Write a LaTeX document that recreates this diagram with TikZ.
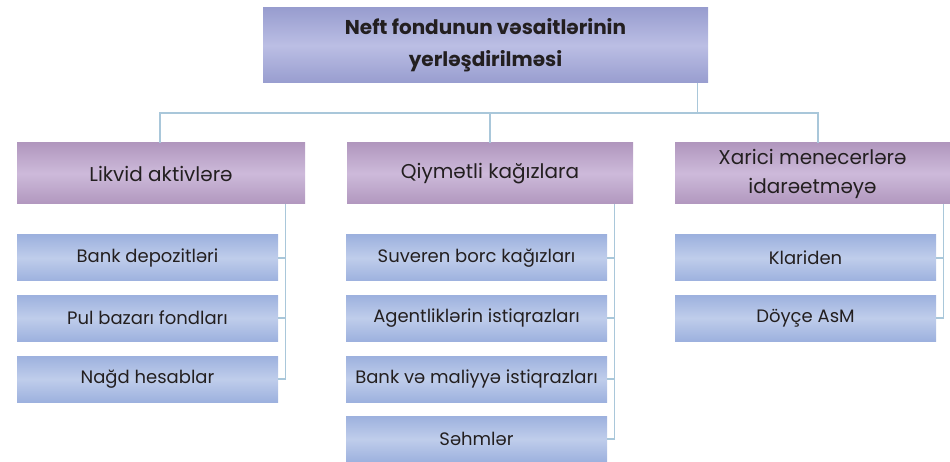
\documentclass[tikz,border=0pt]{standalone}
\usepackage{fontspec}
\setmainfont{Poppins}
\usetikzlibrary{calc}
\definecolor{topE}{HTML}{989DCF}
\definecolor{topM}{HTML}{BBBEE4}
\definecolor{midE}{HTML}{B197BE}
\definecolor{midM}{HTML}{CDBADA}
\definecolor{lowE}{HTML}{9DB1DE}
\definecolor{lowM}{HTML}{BFCDEB}
\definecolor{linkc}{HTML}{A9C7DA}
\definecolor{txt}{HTML}{231F20}
\tikzset{
  box/.style={inner sep=0pt, align=center, text=txt},
  topbox/.style={box, top color=topE, bottom color=topE, middle color=topM,
    minimum width=445pt, minimum height=75pt, font=\fontsize{20}{32}\selectfont\bfseries},
  midbox/.style={box, top color=midE, bottom color=midE, middle color=midM,
    minimum height=61pt, font=\fontsize{20}{29}\selectfont},
  lowbox/.style={box, top color=lowE, bottom color=lowE, middle color=lowM,
    minimum width=261pt, minimum height=46pt, font=\fontsize{18}{20}\selectfont},
  link/.style={draw=linkc, line width=1.1pt}
}
\begin{document}
\begin{tikzpicture}[x=1pt,y=-1pt]
\useasboundingbox (0,0) rectangle (950,462);
\node[topbox] (T) at (485.5,45.5) {Neft fondunun vəsaitlərinin\\yerləşdirilməsi};
\node[midbox, minimum width=288pt] (L1) at (161,173.5) {Likvid aktivlərə};
\node[midbox, minimum width=286pt] (L2) at (490,173.5) {Qiymətli kağızlara};
\node[midbox, minimum width=275pt] (L3) at (812.5,173.5) {Xarici menecerlərə\\idarəetməyə};
\node[lowbox] (a1) at (147.5,258) {Bank depozitləri};
\node[lowbox] (a2) at (147.5,318) {Pul bazarı fondları};
\node[lowbox] (a3) at (147.5,379) {Nağd hesablar};
\node[lowbox] (b1) at (476.5,258) {Suveren borc kağızları};
\node[lowbox] (b2) at (476.5,318) {Agentliklərin istiqrazları};
\node[lowbox] (b3) at (476.5,379) {Bank və maliyyə istiqrazları};
\node[lowbox] (b4) at (476.5,439) {Səhmlər};
\node[lowbox] (c1) at (805.5,258) {Klariden};
\node[lowbox] (c2) at (805.5,318) {Döyçe AsM};
\coordinate (bus) at (0,113);
% top-level connectors
\draw[link] ([xshift=-11pt]T.south east) -- ([xshift=-11pt]T.south east |- bus);
\draw[link] ([xshift=-1pt]L1.north) -- ([xshift=-1pt]L1.north |- bus) -- ([xshift=5.5pt]L3.north |- bus) -- ([xshift=5.5pt]L3.north);
\draw[link] (L2.north) -- (L2.north |- bus);
% left group
\draw[link] ([xshift=7pt]a3.east |- L1.south) -- ([xshift=7pt]a3.east) -- (a3.east);
\draw[link] (a1.east) -- ++(7,0);
\draw[link] (a2.east) -- ++(7,0);
% middle group
\draw[link] ([xshift=7pt]b4.east |- L2.south) -- ([xshift=7pt]b4.east) -- (b4.east);
\draw[link] (b1.east) -- ++(7,0);
\draw[link] (b2.east) -- ++(7,0);
\draw[link] (b3.east) -- ++(7,0);
% right group
\draw[link] ([xshift=7pt]c2.east |- L3.south) -- ([xshift=7pt]c2.east) -- (c2.east);
\draw[link] (c1.east) -- ++(7,0);
\end{tikzpicture}
\end{document}
